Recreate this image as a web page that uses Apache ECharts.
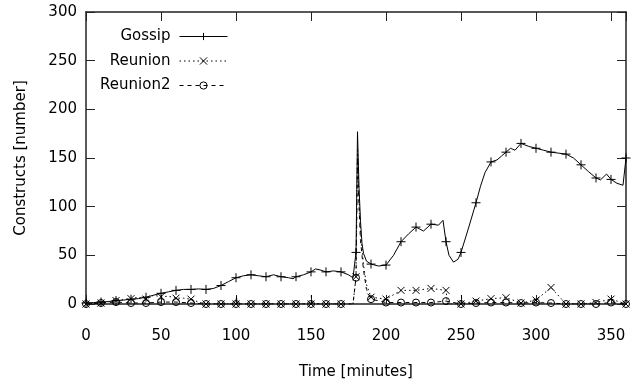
<!DOCTYPE html>
<html>
<head>
<meta charset="utf-8">
<script src="https://cdn.jsdelivr.net/npm/echarts@6/dist/echarts.min.js"></script>
<style>
  html, body { margin: 0; padding: 0; background: #fff; }
  #chart { width: 640px; height: 385px; }
</style>
</head>
<body>
<div id="chart"></div>
<script>
// minutes / values
var gossipT = [0, 5, 10, 15, 20, 25, 30, 35, 40, 45, 50, 55, 60, 65, 70, 75, 80, 85, 90, 95,
  100, 105, 110, 115, 120, 125, 130, 135, 138, 140, 145, 150, 153, 156, 160, 165, 170, 175, 178, 179,
  180, 181, 182, 183, 184, 185, 187, 190, 195, 200, 205, 210, 215, 220, 225, 230, 235, 238, 239, 240,
  242, 245, 248, 250, 255, 260, 263, 266, 270, 274, 277, 280, 283, 286, 290, 295, 300, 305, 310, 315,
  320, 325, 330, 335, 340, 343, 347, 350, 354, 358, 360];
var gossipV = [1, 1.5, 2, 2.5, 3.5, 4, 5, 5.5, 7, 9, 11, 12.5, 14, 15, 15, 15.5, 15, 16, 19, 23,
  27, 29, 30, 29, 28, 30, 28, 27, 26, 28, 30, 33, 36, 35, 33, 34, 33, 30, 27, 28,
  53, 177, 120, 85, 62, 52, 44, 41, 39, 40, 50, 64, 72, 79, 75, 82, 81, 86, 85, 64,
  50, 43, 46, 53, 78, 104, 121, 135, 146, 148, 152, 156, 160, 158, 165, 162, 160, 158, 156, 155,
  154, 150, 143, 136, 129.5, 127.5, 133.5, 128, 124, 122, 150];

var reunionT = [0, 10, 20, 30, 35, 40, 45, 50, 55, 60, 65, 70, 75, 80, 90, 100, 110, 120, 130, 140,
  150, 160, 170, 178, 180, 181, 182, 183, 185, 187, 190, 200, 210, 220, 230, 240, 241, 250, 260, 270,
  280, 290, 300, 310, 320, 330, 340, 350, 360];
var reunionV = [0, 1, 3.5, 5.5, 7, 5, 9, 7.5, 8, 6, 6, 5, 2, 0, 0, 0, 0, 0, 0, 0,
  0, 0, 0, 0, 28, 160, 110, 75, 40, 20, 7, 5, 14, 14, 16, 14, 0, 0, 3, 5.5,
  6.5, 1, 4, 17, 0, 0, 1.5, 5, 0];

var reunion2T = [0, 10, 20, 30, 40, 50, 60, 70, 80, 90, 100, 100.3, 100.6, 110, 120, 130, 140, 150, 150.3, 150.6,
  160, 170, 178, 180, 181, 182, 183, 185, 187, 190, 200, 210, 220, 230, 240, 250, 250.3, 250.6, 260, 270,
  280, 290, 300, 310, 320, 330, 340, 350, 360];
var reunion2V = [0, 1, 2, 1, 1, 2, 2, 1, 0, 0, 0, 9, 0, 0, 0, 0, 0, 0, 9, 0,
  0, 0, 0, 27, 150, 100, 65, 35, 15, 5, 1.5, 1.5, 1.5, 1.5, 3, 0, 9, 0, 1, 1.5,
  1.5, 1, 1.5, 1, 0, 0, 0, 1.5, 0];

var xTicks = { min: 0, max: 360, interval: 50 };
var yTicks = { min: 0, max: 300, interval: 50 };

function pairs(t, v) {
  return t.map(function (x, i) { return [x, v[i]]; });
}

var FONT = 'DejaVu Sans';
var PLUS = 'path://M0,5L10,5M5,0L5,10';
var CROSS = 'path://M0,0L10,10M10,0L0,10';

function markerSize(size) {
  return function (val) { return val[0] % 10 === 0 ? size : 0; };
}

function axisCommon(extra) {
  var a = {
    type: 'value',
    axisLine: { show: true, onZero: false, lineStyle: { color: '#222', width: 1.5 } },
    axisTick: { show: true, inside: true, length: 9, lineStyle: { color: '#222', width: 1 } },
    splitLine: { show: false }
  };
  for (var k in extra) a[k] = extra[k];
  return a;
}

var chart = echarts.init(document.getElementById('chart'), null, { renderer: 'canvas' });

var option = {
  animation: false,
  backgroundColor: '#fff',
  textStyle: { fontFamily: FONT },
  grid: { left: 86, right: 14, top: 12, bottom: 80 },
  legend: ['Gossip', 'Reunion', 'Reunion2'].map(function (name, i) {
    return {
      data: [name],
      right: 412,
      top: 29 + i * 24.5,
      padding: 0,
      align: 'right',
      itemWidth: 48,
      itemHeight: 9,
      selectedMode: false,
      lineStyle: { width: 1 },
      itemStyle: { borderWidth: 1 },
      textStyle: { fontFamily: FONT, fontSize: 15, color: '#000', padding: [0, 4, 0, 0] }
    };
  }),
  xAxis: [
    axisCommon({
      position: 'bottom', min: xTicks.min, max: xTicks.max, interval: xTicks.interval,
      name: 'Time [minutes]', nameLocation: 'middle', nameGap: 61,
      nameTextStyle: { fontFamily: FONT, fontSize: 15, color: '#000' },
      axisLabel: { margin: 25, showMaxLabel: false, fontFamily: FONT, fontSize: 15, color: '#000' }
    }),
    axisCommon({
      position: 'top', min: xTicks.min, max: xTicks.max, interval: xTicks.interval,
      axisLabel: { show: false }
    })
  ],
  yAxis: [
    axisCommon({
      position: 'left', min: yTicks.min, max: yTicks.max, interval: yTicks.interval,
      name: 'Constructs [number]', nameLocation: 'middle', nameGap: 57,
      nameTextStyle: { fontFamily: FONT, fontSize: 15, color: '#000' },
      axisLabel: { margin: 9, fontFamily: FONT, fontSize: 15, color: '#000' }
    }),
    axisCommon({
      position: 'right', min: yTicks.min, max: yTicks.max, interval: yTicks.interval,
      axisLabel: { show: false }
    })
  ],
  series: [
    {
      name: 'Gossip', type: 'line', xAxisIndex: 0, yAxisIndex: 0,
      data: pairs(gossipT, gossipV),
      symbol: PLUS, symbolSize: markerSize(9), showSymbol: true, showAllSymbol: true,
      lineStyle: { color: '#000', width: 1 },
      itemStyle: { color: '#000', borderColor: '#000', borderWidth: 1 },
      z: 4
    },
    {
      name: 'Reunion', type: 'line', xAxisIndex: 0, yAxisIndex: 0,
      data: pairs(reunionT, reunionV),
      symbol: CROSS, symbolSize: markerSize(7), showSymbol: true, showAllSymbol: true,
      lineStyle: { color: '#000', width: 1, type: [1.5, 3] },
      itemStyle: { color: '#000', borderColor: '#000', borderWidth: 1 },
      z: 3
    },
    {
      name: 'Reunion2', type: 'line', xAxisIndex: 0, yAxisIndex: 0,
      data: pairs(reunion2T, reunion2V),
      symbol: 'circle', symbolSize: markerSize(7), showSymbol: true, showAllSymbol: true,
      lineStyle: { color: '#000', width: 1, type: [4, 4] },
      itemStyle: { color: 'rgba(255,255,255,0)', borderColor: '#000', borderWidth: 1 },
      z: 2
    }
  ]
};

chart.setOption(option);
</script>
</body>
</html>
